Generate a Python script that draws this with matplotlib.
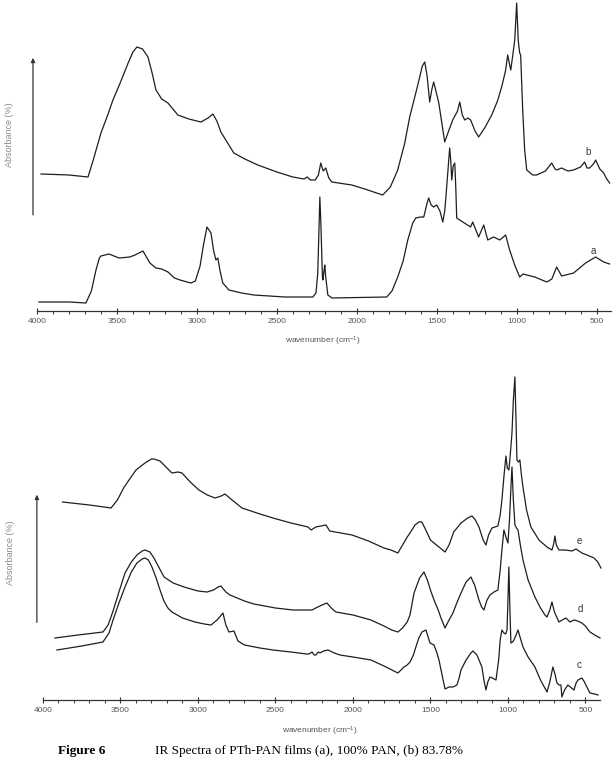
import matplotlib.pyplot as plt
import numpy as np

plt.rcParams['font.family'] = ['Liberation Sans', 'DejaVu Sans']
plt.rcParams['mathtext.default'] = 'regular'

# --- upper panel: spectra a (100% PAN) and b ---
wn_b = [3975, 3800, 3681, 3650, 3600, 3560, 3525, 3480, 3430, 3400, 3375, 3340,
        3306, 3280, 3256, 3220, 3181, 3150, 3119, 3050, 2975, 2930, 2900, 2875,
        2850, 2800, 2769, 2700, 2619, 2500, 2400, 2330, 2310, 2290, 2260, 2240,
        2225, 2210, 2194, 2175, 2156, 2031, 1950, 1838, 1790, 1744, 1700, 1669,
        1620, 1590, 1575, 1560, 1544, 1530, 1519, 1505, 1487, 1470, 1450, 1430,
        1400, 1370, 1356, 1340, 1325, 1305, 1288, 1260, 1238, 1200, 1156, 1120,
        1094, 1070, 1056, 1045, 1037, 1025, 1012, 1000, 990, 981, 975, 962, 950,
        937, 900, 875, 820, 781, 760, 750, 719, 680, 644, 600, 575, 560, 544, 520,
        506, 480, 456, 440, 419]
abs_b = [137, 136, 134, 150, 178, 195, 211, 228, 248, 259, 264, 262,
         254, 238, 221, 212, 208, 202, 196, 192, 189, 193, 197, 190,
         179, 166, 158, 152, 146, 139, 134, 132, 134, 131, 131, 136,
         148, 140, 143, 133, 129, 126, 122, 116, 124, 141, 168, 194,
         225, 245, 249, 235, 209, 222, 229, 220, 208, 190, 169, 178,
         191, 200, 209, 196, 191, 193, 191, 180, 174, 183, 196, 210,
         224, 240, 256, 247, 241, 255, 271, 308, 270, 258, 256, 200, 161,
         141, 136, 136, 140, 148, 142, 141, 143, 140, 141, 144, 149, 143, 143, 147,
         151, 142, 138, 133, 128]

wn_a = [3988, 3800, 3694, 3660, 3631, 3610, 3600, 3550, 3487, 3420, 3387, 3337,
        3294, 3256, 3220, 3181, 3140, 3106, 3060, 3037, 3010, 2980, 2960, 2937,
        2912, 2895, 2881, 2869, 2855, 2838, 2800, 2720, 2644, 2450, 2275, 2255,
        2244, 2235, 2231, 2225, 2215, 2212, 2205, 2200, 2195, 2181, 2156, 1813,
        1780, 1744, 1710, 1681, 1650, 1631, 1600, 1581, 1560, 1550, 1535, 1519,
        1500, 1480, 1462, 1450, 1444, 1430, 1419, 1412, 1406, 1397, 1387, 1380,
        1375, 1337, 1288, 1275, 1238, 1206, 1181, 1144, 1106, 1069, 1044, 1010,
        981, 960, 937, 887, 812, 780, 750, 719, 644, 569, 506, 456, 419]
abs_a = [9, 9, 8, 20, 41, 53, 55, 57, 53, 54, 56, 60,
         48, 43, 42, 39, 33, 31, 29, 28, 30, 45, 65, 84,
         78, 60, 51, 53, 40, 28, 21, 18, 16, 14, 14, 18,
         38, 90, 114, 90, 35, 31, 40, 46, 35, 16, 13, 14,
         20, 34, 50, 71, 88, 93, 94, 94, 108, 113, 106, 104,
         106, 100, 89, 100, 111, 140, 163, 150, 131, 145, 148, 120,
         93, 89, 84, 89, 74, 86, 71, 74, 71, 76, 61, 45,
         34, 37, 36, 34, 29, 32, 44, 35, 38, 48, 54, 49, 47]

# --- lower panel: spectra c, d, e ---
wn_e = [3874, 3700, 3561, 3520, 3480, 3445, 3400, 3342, 3300, 3284, 3245, 3200,
        3168, 3130, 3103, 3050, 2994, 2940, 2890, 2850, 2826, 2780, 2716, 2600,
        2516, 2400, 2290, 2270, 2240, 2174, 2150, 2006, 1900, 1800, 1755, 1710,
        1680, 1650, 1632, 1600, 1575, 1555, 1530, 1500, 1477, 1445, 1406, 1380,
        1350, 1303, 1260, 1232, 1210, 1187, 1160, 1142, 1125, 1103, 1065, 1050,
        1039, 1025, 1013, 1004, 994, 985, 974, 965, 955, 948, 942, 933, 923, 913,
        903, 880, 852, 800, 748, 716, 705, 697, 688, 671, 630, 587, 560, 523, 490,
        445, 420, 400]
abs_e = [198, 195, 192, 200, 212, 220, 230, 237, 241, 241, 239, 232,
         227, 228, 227, 218, 210, 205, 202, 204, 206, 200, 192, 186,
         182, 177, 173, 170, 173, 175, 169, 165, 159, 152, 150, 147,
         155, 163, 167, 175, 178, 178, 170, 160, 157, 153, 148, 155,
         168, 177, 182, 184, 180, 173, 160, 155, 165, 172, 174, 185,
         200, 225, 244, 232, 230, 245, 267, 300, 323, 280, 240, 238, 240, 225,
         213, 190, 173, 160, 153, 150, 156, 164, 155, 150, 150, 149, 151, 147, 145,
         142, 138, 132]

wn_d = [3923, 3774, 3613, 3580, 3550, 3510, 3471, 3430, 3394, 3360, 3342, 3310,
        3284, 3250, 3219, 3160, 3090, 3000, 2942, 2900, 2870, 2852, 2820, 2794,
        2700, 2639, 2500, 2387, 2300, 2264, 2240, 2200, 2168, 2140, 2110, 2000,
        1884, 1800, 1750, 1710, 1680, 1650, 1632, 1606, 1570, 1542, 1520, 1500,
        1477, 1450, 1432, 1406, 1380, 1355, 1330, 1303, 1270, 1239, 1215, 1187,
        1170, 1155, 1135, 1116, 1090, 1065, 1050, 1039, 1026, 1013, 1000, 990,
        980, 974, 965, 955, 945, 935, 920, 903, 870, 826, 790, 761, 748, 730,
        716, 700, 671, 650, 626, 600, 574, 550, 523, 500, 471, 440, 406]
abs_d = [62, 65, 68, 75, 88, 108, 127, 138, 145, 149, 150, 148,
         142, 132, 123, 117, 113, 109, 108, 110, 113, 114, 108, 105,
         99, 96, 92, 90, 90, 90, 92, 95, 97, 92, 88, 85,
         80, 74, 70, 68, 72, 78, 85, 107, 122, 128, 120, 110,
         100, 90, 82, 72, 80, 87, 97, 107, 118, 123, 115, 100,
         93, 90, 100, 105, 108, 110, 130, 150, 170, 163, 157, 180,
         215, 233, 200, 175, 172, 170, 155, 140, 120, 103, 92, 85, 83, 90,
         98, 88, 78, 80, 82, 78, 80, 79, 77, 74, 68, 65, 62]

wn_c = [3910, 3750, 3613, 3574, 3548, 3510, 3471, 3430, 3394, 3360, 3342, 3320,
        3297, 3270, 3245, 3220, 3194, 3168, 3100, 3019, 2960, 2916, 2877, 2855,
        2839, 2820, 2800, 2768, 2742, 2700, 2600, 2516, 2400, 2300, 2284, 2264,
        2250, 2239, 2225, 2213, 2190, 2161, 2120, 2084, 2000, 1884, 1800, 1710,
        1690, 1671, 1650, 1632, 1610, 1594, 1575, 1555, 1529, 1515, 1503, 1477,
        1460, 1445, 1425, 1406, 1380, 1355, 1329, 1315, 1303, 1270, 1239, 1226,
        1200, 1168, 1155, 1142, 1130, 1116, 1100, 1077, 1060, 1050, 1039, 1026,
        1015, 1006, 1000, 994, 988, 981, 970, 961, 945, 935, 920, 903, 870, 826,
        790, 748, 730, 710, 695, 684, 670, 658, 652, 635, 613, 590, 574, 560, 548,
        523, 510, 497, 471, 440, 419]
abs_c = [50, 54, 58, 67, 80, 97, 113, 128, 137, 141, 142, 140,
         133, 122, 110, 99, 92, 88, 82, 78, 76, 75, 80, 84,
         87, 75, 68, 69, 59, 55, 52, 50, 48, 46, 46, 48,
         45, 45, 48, 47, 49, 50, 47, 45, 43, 40, 34, 27,
         30, 33, 35, 38, 45, 53, 62, 68, 70, 63, 57, 55,
         48, 40, 25, 11, 13, 13, 15, 22, 30, 40, 47, 49,
         45, 33, 20, 10, 18, 23, 22, 20, 40, 60, 70, 67,
         66, 70, 100, 133, 95, 57, 58, 60, 66, 70, 62, 53, 43, 33,
         20, 8, 18, 33, 25, 17, 15, 15, 3, 10, 15, 12, 10, 17, 20,
         22, 19, 15, 7, 6, 5]

major_ticks = np.arange(500, 4001, 500)
minor_ticks = np.arange(500, 4001, 100)
tick_labels = ['500', '1000', '1500', '2000', '2500', '3000', '3500', '4000']

line_kw = dict(color='#1e1e1e', lw=0.9)
text_gray = '#555555'

fig = plt.figure(figsize=(6.13, 7.59), dpi=100)
ax1 = fig.add_axes([37 / 613, 1 - 311 / 759, 574 / 613, 311 / 759])
ax2 = fig.add_axes([43 / 613, 1 - 700 / 759, 557 / 613, 360 / 759])

ax1.plot(wn_b, abs_b, clip_on=False, **line_kw)
ax1.plot(wn_a, abs_a, clip_on=False, **line_kw)
ax1.set_xlim(4000, 410)
ax1.set_ylim(0, 311)

ax2.plot(wn_e, abs_e, clip_on=False, **line_kw)
ax2.plot(wn_d, abs_d, clip_on=False, **line_kw)
ax2.plot(wn_c, abs_c, clip_on=False, **line_kw)
ax2.set_xlim(4000, 406)
ax2.set_ylim(0, 360)

for ax in (ax1, ax2):
    for s in ('top', 'right', 'left'):
        ax.spines[s].set_visible(False)
    ax.spines['bottom'].set_color('#333333')
    ax.spines['bottom'].set_linewidth(0.9)
    ax.set_yticks([])
    ax.set_xticks(major_ticks)
    ax.set_xticklabels(tick_labels)
    ax.set_xticks(minor_ticks, minor=True)
    ax.tick_params(axis='x', which='major', direction='inout', length=5,
                   width=0.8, color='#333333', pad=2.5, labelsize=6,
                   labelcolor=text_gray)
    ax.tick_params(axis='x', which='minor', direction='out', length=2,
                   width=0.7, color='#333333')
    ax.patch.set_alpha(0)
    ax.set_xlabel('wavenumber (cm$^{-1}$)', fontsize=6, color=text_gray)

ax1.xaxis.set_label_coords(0.497, -0.077)
ax2.xaxis.set_label_coords(0.497, -0.069)

# y-axis arrows
ax1.annotate('', xy=(-0.007, 0.823), xytext=(-0.007, 0.30),
             xycoords='axes fraction', annotation_clip=False,
             arrowprops=dict(arrowstyle='-|>', color='#333333', lw=0.9,
                             mutation_scale=6))
ax2.annotate('', xy=(-0.011, 0.578), xytext=(-0.011, 0.208),
             xycoords='axes fraction', annotation_clip=False,
             arrowprops=dict(arrowstyle='-|>', color='#333333', lw=0.9,
                             mutation_scale=6))

fig.text(10 / 613, 1 - 135 / 759, 'Absorbance (%)', rotation=90,
         ha='center', va='center', fontsize=6.5, color='#8a8a8a')
fig.text(11 / 613, 1 - 553 / 759, 'Absorbance (%)', rotation=90,
         ha='center', va='center', fontsize=6.5, color='#8a8a8a')

# curve labels
lab_kw = dict(fontsize=7, color='#333333', ha='center', va='center')
ax1.text(556, 159, 'b', **lab_kw)
ax1.text(519, 60, 'a', **lab_kw)
ax2.text(542, 159, 'e', **lab_kw)
ax2.text(535, 91, 'd', **lab_kw)
ax2.text(542, 35, 'c', **lab_kw)

# caption
fig.text(58 / 613, 1 - 754 / 759, 'Figure 6', family='Liberation Serif',
         weight='bold', fontsize=9.5, va='baseline')
fig.text(155 / 613, 1 - 754 / 759,
         'IR Spectra of PTh-PAN films (a), 100% PAN, (b) 83.78%',
         family='Liberation Serif', fontsize=9.5, va='baseline')

fig.savefig('out.png', dpi=100)
